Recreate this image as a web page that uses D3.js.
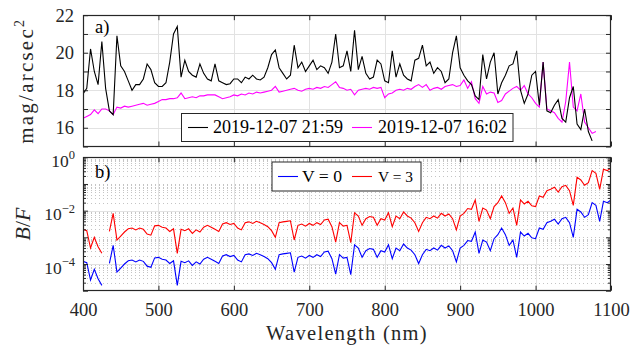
<!DOCTYPE html>
<html><head><meta charset="utf-8">
<script src="https://cdn.jsdelivr.net/npm/d3@7"></script>
<style>
body{margin:0;background:#fff}
svg{display:block}
</style>
</head><body><svg id="c" width="630" height="346"></svg>
<script>
// ---------------- data ----------------
const wavelength = [
400,405,410,415,420,425,430,435,440,445,450,455,460,465,470,475,480,485,490,495,
500,505,510,515,520,525,530,535,540,545,550,555,560,565,570,575,580,585,590,595,
600,605,610,615,620,625,630,635,640,645,650,655,660,665,670,675,680,685,690,695,
700,705,710,715,720,725,730,735,740,745,750,755,760,765,770,775,780,785,790,795,
800,805,810,815,820,825,830,835,840,845,850,855,860,865,870,875,880,885,890,895,
900,905,910,915,920,925,930,935,940,945,950,955,960,965,970,975,980,985,990,995,
1000,1005,1010,1015,1020,1025,1030,1035,1040,1045,1050,1055,1060,1065,1070,1075,
1080,1085,1090,1095,1100];

// panel a) surface brightness, mag/arcsec^2
const magNight = [ // 2019-12-07 21:59
17.8,18.1,20.2,19.0,18.3,20.6,18.1,16.9,16.7,20.9,
19.3,19.0,18.5,18.0,18.3,18.3,18.6,19.4,19.1,18.4,
18.2,18.2,18.4,19.5,21.0,21.4,18.7,19.6,19.0,18.8,
18.7,19.4,18.9,18.6,18.5,19.4,18.5,18.4,18.3,18.35,
18.6,18.6,18.4,18.7,18.6,18.8,18.6,18.55,18.7,19.2,
19.9,20.15,19.2,18.9,18.6,18.8,20.4,19.2,19.5,19.0,
19.3,19.6,19.1,19.3,19.2,18.9,19.5,21.0,19.2,19.3,
20.1,19.0,21.2,19.1,19.8,18.9,18.6,18.7,19.6,19.4,
18.5,18.4,20.1,18.7,19.4,18.8,18.6,18.5,19.6,19.7,
20.4,19.3,19.5,18.9,19.2,19.0,18.4,18.6,20.0,20.9,
19.2,18.8,18.5,18.3,17.7,17.5,19.9,18.6,19.5,20.0,
17.8,18.4,18.8,19.3,19.4,20.1,18.0,17.3,17.8,18.8,
19.0,17.2,19.5,16.9,16.8,17.2,17.5,16.5,16.3,17.6,
18.2,16.2,15.9,17.0,15.8,15.3];
const magDay = [ // 2019-12-07 16:02
16.5,16.6,16.7,16.95,16.75,17.0,17.0,16.9,16.7,17.1,
17.05,17.15,17.1,17.15,17.2,17.25,17.3,17.2,17.25,17.3,
17.4,17.5,17.5,17.55,17.55,17.6,17.85,17.55,17.6,17.65,
17.6,17.7,17.7,17.75,17.75,17.75,17.65,17.55,17.6,17.65,
17.75,17.7,17.8,17.75,17.85,17.8,17.9,17.85,17.9,17.95,
18.0,18.2,17.9,17.95,18.0,18.05,18.1,18.0,17.95,18.05,
18.1,18.05,18.15,18.1,18.2,18.15,18.3,18.45,18.15,18.1,
18.0,18.05,17.75,18.0,18.05,18.1,18.05,18.15,18.1,18.15,
17.6,17.8,17.85,18.0,18.05,18.0,18.1,18.05,18.2,18.3,
18.15,18.3,18.0,18.1,18.15,18.05,18.2,18.25,18.3,18.2,
18.25,18.55,18.1,18.45,17.55,17.3,18.2,17.8,17.9,17.85,
17.35,17.45,17.8,17.95,18.1,18.2,18.0,18.25,17.8,17.6,
17.3,17.1,19.5,17.0,16.9,16.8,16.5,16.3,17.4,19.5,
17.1,16.9,17.8,16.3,16.0,15.7,15.8];

// panel b) B/F, stored as log10 values
const logBF_V0 = [
-3.90,-3.95,-4.60,-4.20,-4.55,-4.80,null,-3.98,-3.30,-4.30,
-4.15,-4.00,-3.88,-3.85,-3.92,-3.85,-3.90,-4.08,-4.12,-3.77,
-3.75,-3.82,-3.85,-3.98,-3.88,-4.80,-3.90,-3.95,-3.88,-4.05,
-3.92,-4.00,-3.82,-3.75,-3.82,-3.90,-3.98,-3.70,-3.65,-3.72,
-3.68,-3.85,-3.92,-3.65,-3.62,-3.68,-3.60,-3.65,-3.72,-3.80,
-3.95,-4.20,-3.65,-3.62,-3.60,-3.58,-4.30,-3.75,-3.70,-3.78,
-3.68,-3.75,-3.65,-3.72,-3.55,-3.52,-3.80,-4.38,-3.65,-3.78,
-3.75,-4.40,-3.28,-3.40,-3.75,-3.50,-3.42,-3.45,-3.75,-3.50,
-3.55,-3.28,-3.80,-3.40,-3.50,-3.25,-3.40,-3.48,-3.65,-3.98,
-3.65,-3.45,-3.50,-3.40,-3.48,-3.30,-3.40,-3.32,-3.50,-3.92,
-3.40,-3.30,-3.12,-3.15,-2.80,-3.60,-3.10,-3.18,-3.50,-3.05,
-2.90,-2.65,-2.90,-3.30,-3.10,-3.75,-2.80,-2.95,-2.85,-3.02,
-3.05,-2.65,-2.70,-2.45,-2.40,-2.32,-2.50,-2.30,-2.25,-2.45,
-3.00,-1.95,-2.05,-2.25,-2.15,-1.70,-1.80,-2.40,-1.65,-1.70,
-1.60];
const logBF_V3 = [
-2.70,-2.75,-3.40,-3.00,-3.35,-3.60,null,-2.78,-2.10,-3.10,
-2.95,-2.80,-2.68,-2.65,-2.72,-2.65,-2.70,-2.88,-2.92,-2.57,
-2.55,-2.62,-2.65,-2.78,-2.68,-3.60,-2.70,-2.75,-2.68,-2.85,
-2.72,-2.80,-2.62,-2.55,-2.62,-2.70,-2.78,-2.50,-2.45,-2.52,
-2.48,-2.65,-2.72,-2.45,-2.42,-2.48,-2.40,-2.45,-2.52,-2.60,
-2.75,-3.00,-2.45,-2.42,-2.40,-2.38,-3.10,-2.55,-2.50,-2.58,
-2.48,-2.55,-2.45,-2.52,-2.35,-2.32,-2.60,-3.18,-2.45,-2.58,
-2.55,-3.20,-2.08,-2.20,-2.55,-2.30,-2.22,-2.25,-2.55,-2.30,
-2.35,-2.08,-2.60,-2.20,-2.30,-2.05,-2.20,-2.28,-2.45,-2.78,
-2.45,-2.25,-2.30,-2.20,-2.28,-2.10,-2.20,-2.12,-2.30,-2.72,
-2.20,-2.10,-1.92,-1.95,-1.60,-2.40,-1.90,-1.98,-2.30,-1.85,
-1.70,-1.45,-1.70,-2.10,-1.90,-2.55,-1.60,-1.75,-1.65,-1.82,
-1.85,-1.45,-1.50,-1.25,-1.20,-1.12,-1.30,-1.10,-1.05,-1.25,
-1.80,-0.75,-0.85,-1.05,-0.95,-0.50,-0.60,-1.20,-0.45,-0.50,
-0.40];

const xTicks = [400,500,600,700,800,900,1000,1100];
const magTicks = [15,16,17,18,19,20,21,22];
const magLabelTicks = [16,18,20,22];
const bfMajor = [1e-5,1e-4,1e-3,1e-2,1e-1,1];
const bfLabelExp = [0,-2,-4];
const topLegend = ["2019-12-07 21:59","2019-12-07 16:02"];
const botLegend = ["V = 0","V = 3"];

// ---------------- font: pick the first installed serif face ----------------
function hasFont(name){
  const c = document.createElement("canvas").getContext("2d");
  const s = "Wavelength (nm) 0123456789 mag/arcsec WMgq";
  const res = [];
  for (const fb of ["monospace","sans-serif"]) {
    c.font = `40px ${fb}`; const a = c.measureText(s).width;
    c.font = `40px "${name}", ${fb}`; const b = c.measureText(s).width;
    res.push(Math.abs(a-b) > 0.5);
  }
  return res[0] && res[1];
}
const serifCandidates = ["Liberation Serif","Tinos","Times New Roman","DejaVu Serif","Noto Serif","FreeSerif","Nimbus Roman","Times","Georgia"];
const chosen = serifCandidates.find(hasFont);
const FONT = chosen ? `"${chosen}", serif` : "serif";

// ---------------- layout ----------------
const AX = "#262626", GRID = "#e2e2e2";
const L = 83, R = 611;
const svg = d3.select("#c").attr("font-family",FONT).style("font-family",FONT);
const x = d3.scaleLinear().domain([400,1100]).range([L,R]);
const yA = d3.scaleLinear().domain([15,22]).range([146.5,15.2]);
const yB = d3.scaleLog().domain([1e-5,1]).range([290.7,157.3]);

const minorBF = [];
for (let e=-5;e<0;e++) for (let k=2;k<=9;k++) minorBF.push(k*Math.pow(10,e));

function txt(sel){ return sel.attr("font-family",FONT).style("font-family",FONT); }
// widen a text to a target length by letter spacing (font metrics differ from the original)
function fitSpacing(sel, target){
  const n = sel.node(); const w = n.getComputedTextLength();
  const chars = n.textContent.length;
  if (w > 0 && chars > 1) sel.style("letter-spacing", ((target-w)/chars).toFixed(2)+"px");
}
function fitSize(sel, target){
  const n = sel.node(); const w = n.getComputedTextLength();
  const cur = parseFloat(sel.style("font-size"));
  if (w > 0) sel.style("font-size", (cur*target/w).toFixed(2)+"px");
}

function frame(y, id){
  const [y1,y0] = [y.range()[1], y.range()[0]];
  svg.append("clipPath").attr("id",id).append("rect")
    .attr("x",L).attr("y",y1).attr("width",R-L).attr("height",y0-y1);
  return [y1,y0];
}
const [aTop,aBot] = frame(yA,"ca");
const [bTop,bBot] = frame(yB,"cb");

// grids
const g = svg.append("g").attr("shape-rendering","crispEdges");
xTicks.slice(1,-1).forEach(t=>{
  g.append("line").attr("x1",Math.round(x(t))+0.5).attr("x2",Math.round(x(t))+0.5).attr("y1",aTop).attr("y2",aBot).attr("stroke",GRID);
  g.append("line").attr("x1",Math.round(x(t))+0.5).attr("x2",Math.round(x(t))+0.5).attr("y1",bTop).attr("y2",bBot).attr("stroke",GRID);
});
magTicks.slice(1,-1).forEach(t=>{
  g.append("line").attr("x1",L).attr("x2",R).attr("y1",Math.round(yA(t))+0.5).attr("y2",Math.round(yA(t))+0.5).attr("stroke",GRID);
});
minorBF.concat([1e-1,1e-3]).forEach(t=>{
  g.append("line").attr("x1",L).attr("x2",R).attr("y1",Math.round(yB(t))+0.5).attr("y2",Math.round(yB(t))+0.5)
   .attr("stroke","#c4c4c4").attr("stroke-dasharray","1,3");
});
[1e-4,1e-2].forEach(t=>{
  g.append("line").attr("x1",L).attr("x2",R).attr("y1",Math.round(yB(t))+0.5).attr("y2",Math.round(yB(t))+0.5).attr("stroke",GRID);
});

// data lines
const lineA = d3.line().defined(d=>d[1]!=null).x(d=>x(d[0])).y(d=>yA(d[1]));
const lineB = d3.line().defined(d=>d[1]!=null).x(d=>x(d[0])).y(d=>yB(Math.pow(10,d[1])));
const pa = svg.append("g").attr("clip-path","url(#ca)");
pa.append("path").datum(magDay.map((v,i)=>[wavelength[i],v])).attr("d",lineA)
  .attr("fill","none").attr("stroke","#ff00ff").attr("stroke-width",1.1);
pa.append("path").datum(magNight.map((v,i)=>[wavelength[i],v])).attr("d",lineA)
  .attr("fill","none").attr("stroke","#000").attr("stroke-width",1.1);
const pb = svg.append("g").attr("clip-path","url(#cb)");
pb.append("path").datum(logBF_V0.map((v,i)=>[wavelength[i],v])).attr("d",lineB)
  .attr("fill","none").attr("stroke","#0000ff").attr("stroke-width",1.1);
pb.append("path").datum(logBF_V3.map((v,i)=>[wavelength[i],v])).attr("d",lineB)
  .attr("fill","none").attr("stroke","#ff0000").attr("stroke-width",1.1);

// axes
function styleAxis(sel){
  sel.attr("color",AX).attr("font-family",FONT).attr("font-size",null);
  sel.select(".domain").remove();
  sel.selectAll("text").attr("fill",AX).style("font-family",FONT);
}
const fmt = d3.format("d");
// panel a
svg.append("g").attr("transform",`translate(0,${aBot})`)
  .call(d3.axisBottom(x).tickValues(xTicks).tickSize(-5).tickFormat(""))
  .call(styleAxis);
svg.append("g").attr("transform",`translate(0,${aTop})`)
  .call(d3.axisTop(x).tickValues(xTicks).tickSize(-5).tickFormat(""))
  .call(styleAxis);
svg.append("g").attr("transform",`translate(${L},0)`)
  .call(d3.axisLeft(yA).tickValues(magTicks).tickSize(-5).tickPadding(9)
    .tickFormat(d=>magLabelTicks.includes(d)?fmt(d):""))
  .call(styleAxis).selectAll("text").style("font-size","18.5px");
svg.append("g").attr("transform",`translate(${R},0)`)
  .call(d3.axisRight(yA).tickValues(magTicks).tickSize(-5).tickFormat(""))
  .call(styleAxis);
// panel b
svg.append("g").attr("transform",`translate(0,${bBot})`)
  .call(d3.axisBottom(x).tickValues(xTicks).tickSize(-5).tickPadding(12).tickFormat(fmt))
  .call(styleAxis).selectAll("text").style("font-size","18.5px");
svg.append("g").attr("transform",`translate(0,${bTop})`)
  .call(d3.axisTop(x).tickValues(xTicks).tickSize(-5).tickFormat(""))
  .call(styleAxis);
svg.append("g").attr("transform",`translate(${L},0)`)
  .call(d3.axisLeft(yB).tickValues(bfMajor).tickSize(-5).tickFormat(""))
  .call(styleAxis);
svg.append("g").attr("transform",`translate(${L},0)`)
  .call(d3.axisLeft(yB).tickValues(minorBF).tickSize(-3).tickFormat(""))
  .call(styleAxis);
svg.append("g").attr("transform",`translate(${R},0)`)
  .call(d3.axisRight(yB).tickValues(bfMajor).tickSize(-5).tickFormat(""))
  .call(styleAxis);
svg.append("g").attr("transform",`translate(${R},0)`)
  .call(d3.axisRight(yB).tickValues(minorBF).tickSize(-3).tickFormat(""))
  .call(styleAxis);
bfLabelExp.forEach(e=>{
  const t = svg.append("text").attr("x",75).attr("y",yB(Math.pow(10,e))+9.5)
    .attr("text-anchor","end").attr("fill",AX).style("font-size","17.5px").call(txt);
  t.append("tspan").text("10");
  t.append("tspan").attr("dy",-7.5).style("font-size","12.5px").text(e<0?"\u2212"+(-e):String(e));
});

// boxes
svg.append("rect").attr("x",L+0.5).attr("y",Math.round(aTop)+0.5).attr("width",R-L-1).attr("height",Math.round(aBot)-Math.round(aTop)-1)
  .attr("fill","none").attr("stroke",AX).attr("stroke-width",1.2);
svg.append("rect").attr("x",L+0.5).attr("y",Math.round(bTop)+0.5).attr("width",R-L-1).attr("height",Math.round(bBot)-Math.round(bTop)-1)
  .attr("fill","none").attr("stroke",AX).attr("stroke-width",1.2);

// panel letters
svg.append("text").attr("x",95).attr("y",33).attr("fill","#000").style("font-size","18.5px").call(txt).text("a)");
svg.append("text").attr("x",95).attr("y",178).attr("fill","#000").style("font-size","18.5px").call(txt).text("b)");

// axis labels
const yl = svg.append("text").attr("transform","translate(33,80.8) rotate(-90)").attr("fill",AX)
  .attr("text-anchor","middle").style("font-size","21px").call(txt);
yl.append("tspan").text("mag/arcsec");
yl.append("tspan").attr("dy",-9).style("font-size","14px").text("2");
fitSpacing(yl, 126);
const yl2 = svg.append("text").attr("transform","translate(30,224) rotate(-90)").attr("fill",AX)
  .attr("text-anchor","middle").style("font-size","22px").call(txt);
yl2.append("tspan").style("font-style","italic").text("B");
yl2.append("tspan").text("/");
yl2.append("tspan").style("font-style","italic").text("F");
const xl = svg.append("text").attr("x",347).attr("y",340).attr("text-anchor","middle").attr("fill",AX)
  .style("font-size","20.5px").call(txt).text("Wavelength (nm)");
fitSpacing(xl, 162);

// legends
function legend(x0,y0,w,h,items){
  const lg = svg.append("g");
  lg.append("rect").attr("x",x0+0.5).attr("y",y0+0.5).attr("width",w).attr("height",h)
    .attr("fill","#fff").attr("stroke",AX).attr("stroke-width",1);
  items.forEach(it=>{
    lg.append("line").attr("x1",it.lx).attr("x2",it.lx+20).attr("y1",y0+h/2+0.5).attr("y2",y0+h/2+0.5)
      .attr("stroke",it.c).attr("stroke-width",1.1);
    const t = lg.append("text").attr("x",it.tx).attr("y",y0+h/2+6).style("font-size","18px").attr("fill","#000").call(txt).text(it.t);
    fitSize(t, it.w);
  });
}
legend(181,113,331.5,28,[
  {lx:188,tx:213,c:"#000",t:topLegend[0],w:130},
  {lx:352,tx:378,c:"#ff00ff",t:topLegend[1],w:129}]);
legend(271.5,161.5,149,29,[
  {lx:278,tx:302,c:"#0000ff",t:botLegend[0],w:40},
  {lx:352,tx:378,c:"#ff0000",t:botLegend[1],w:35}]);
</script></body></html>
